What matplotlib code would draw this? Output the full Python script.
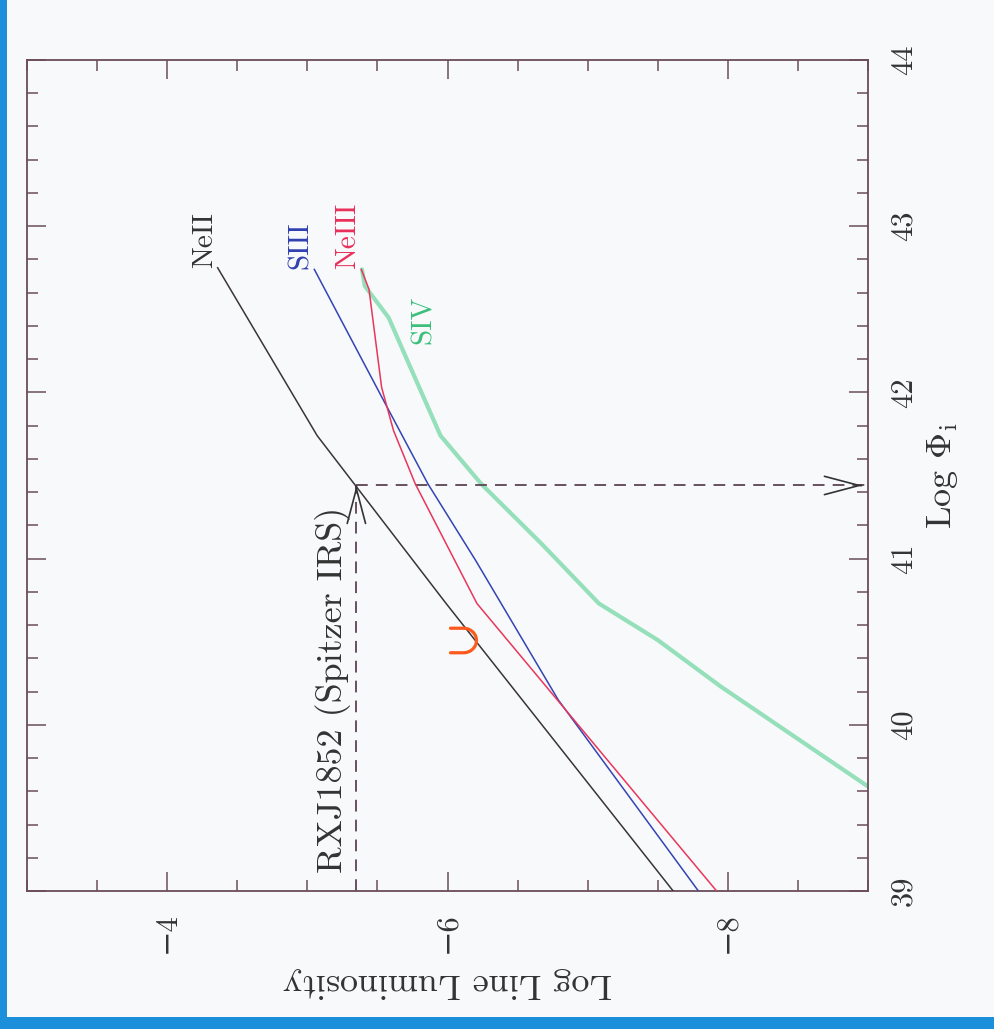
import matplotlib
matplotlib.use("Agg")
import matplotlib.pyplot as plt
from matplotlib.patches import Rectangle
from matplotlib.ticker import MultipleLocator

phi_neii = [42.75, 41.74, 40.73, 39.0]
lum_neii = [-4.36, -5.07, -5.99, -7.61]

phi_siii = [42.74, 41.91, 41.45, 40.99, 40.15, 39.0]
lum_siii = [-5.05, -5.57, -5.86, -6.20, -6.79, -7.79]

phi_neiii = [42.74, 42.62, 42.03, 41.77, 41.45, 40.73, 39.0]
lum_neiii = [-5.385, -5.44, -5.53, -5.615, -5.77, -6.21, -7.92]

phi_siv = [42.74, 42.64, 42.45, 42.18, 41.74, 41.45, 41.09, 40.73, 40.51, 40.23, 39.6]
lum_siv = [-5.39, -5.41, -5.58, -5.72, -5.95, -6.24, -6.67, -7.08, -7.50, -7.95, -9.05]

# RXJ1852 (Spitzer IRS) NeII luminosity and the flux
rxj_lum = -5.35
rxj_phi = 41.44

# orange mark
obs_lum = [-6.11]
obs_phi = [40.51]

lum_lim = (-3, -9)
phi_lim = (39, 44)
lum_ticks = [-4, -6, -8]
lum_ticklabels = ["\u22124", "\u22126", "\u22128"]
phi_ticks = [39, 40, 41, 42, 43, 44]

plt.rcParams['font.family'] = ['cmr10', 'DejaVu Serif']
plt.rcParams['mathtext.fontset'] = 'cm'
plt.rcParams['axes.formatter.use_mathtext'] = True

bg = '#f7f9fb'
frame = '#6b4d5a'

fig = plt.figure(figsize=(9.95, 10.29), dpi=100)
fig.patch.set_facecolor(bg)

# blue border of the scan (left and bottom)
fig.patches.append(Rectangle((0, 0), 7 / 995, 1, transform=fig.transFigure,
                             facecolor='#1b8fd9', edgecolor='none'))
fig.patches.append(Rectangle((0, 0), 1, 12 / 1029, transform=fig.transFigure,
                             facecolor='#1b8fd9', edgecolor='none'))

ax = fig.add_axes([27 / 995, 1 - 891 / 1029, 841 / 995, 831 / 1029])
ax.set_facecolor(bg)

# the plot is shown turned by 90 degrees: luminosity runs horizontally
ax.plot(lum_siv, phi_siv, color='#95e0ba', lw=3.0, solid_capstyle='round', zorder=1)
ax.plot(lum_neii, phi_neii, color='#3a3438', lw=1.1, zorder=3)
ax.plot(lum_siii, phi_siii, color='#3444b4', lw=1.1, zorder=3)
ax.plot(lum_neiii, phi_neiii, color='#e8365c', lw=1.1, zorder=3)

dash_col = '#5c4452'
ax.plot([rxj_lum, rxj_lum], [phi_lim[0], rxj_phi], color=dash_col, lw=1.3,
        dashes=(6.5, 4.5), zorder=2)
ax.plot([rxj_lum, lum_lim[1]], [rxj_phi, rxj_phi], color=dash_col, lw=1.3,
        dashes=(6.5, 4.5), zorder=2)
arrow = dict(arrowstyle='->,head_length=1.25,head_width=0.33', color='#333333',
             lw=1.2, mutation_scale=20, shrinkA=0, shrinkB=0)
ax.annotate('', xy=(rxj_lum, rxj_phi), xytext=(rxj_lum, rxj_phi - 0.01), arrowprops=arrow)
ax.annotate('', xy=(lum_lim[1] + 0.04, rxj_phi), xytext=(lum_lim[1] + 0.05, rxj_phi),
            arrowprops=arrow)

ax.plot(obs_lum, obs_phi, ls='none', marker=r'$\supset$', ms=20, color='#ff5a1e',
        zorder=4)

# curve names at the upper ends of the curves
ax.text(lum_neii[0], phi_neii[0], 'NeII', rotation=90, rotation_mode='anchor',
        ha='left', va='bottom', fontsize=21, color='#333333')
ax.text(lum_siii[0], phi_siii[0], 'SIII', rotation=90, rotation_mode='anchor',
        ha='left', va='bottom', fontsize=21, color='#3040b0')
ax.text(lum_neiii[0], phi_neiii[0], 'NeIII', rotation=90, rotation_mode='anchor',
        ha='left', va='bottom', fontsize=21, color='#e8305a')
ax.text(-5.83, 42.44, 'SIV', rotation=90, ha='center', va='center',
        fontsize=21, color='#3cbf7a', fontweight='bold')
ax.text(rxj_lum + 0.105, 39.11, 'RXJ1852 (Spitzer IRS)', rotation=90,
        rotation_mode='anchor', ha='left', va='baseline', fontsize=26, color='#333333')

ax.set_xlim(*lum_lim)
ax.set_ylim(*phi_lim)
ax.set_xticks(lum_ticks)
ax.set_xticklabels(lum_ticklabels, rotation=90, ha='center', va='top')
ax.set_yticks(phi_ticks)
ax.set_yticklabels([str(t) for t in phi_ticks], rotation=90, ha='left', va='center')
ax.xaxis.set_minor_locator(MultipleLocator(0.5))
ax.yaxis.set_minor_locator(MultipleLocator(0.2))
ax.tick_params(which='both', direction='in', top=True, bottom=True, left=True,
               right=True, labelleft=False, labelright=True, color=frame,
               labelsize=22, labelcolor='#333333')
ax.tick_params(which='major', length=14, width=1.1)
ax.tick_params(which='minor', length=8, width=1.1)
ax.tick_params(axis='x', pad=15)
ax.tick_params(axis='y', pad=16)
for s in ax.spines.values():
    s.set_color(frame)
    s.set_linewidth(1.3)

ax.text(0.5, -(983 - 891) / 831, 'Log Line Luminosity', transform=ax.transAxes,
        rotation=180, ha='center', va='center', fontsize=26, color='#333333')
ax.text((943 - 27) / 841, 0.5, r'Log $\Phi_{\rm i}$', transform=ax.transAxes,
        rotation=90, ha='center', va='center', fontsize=26, color='#333333')

fig.savefig('out.png', dpi=100, facecolor=fig.get_facecolor())
